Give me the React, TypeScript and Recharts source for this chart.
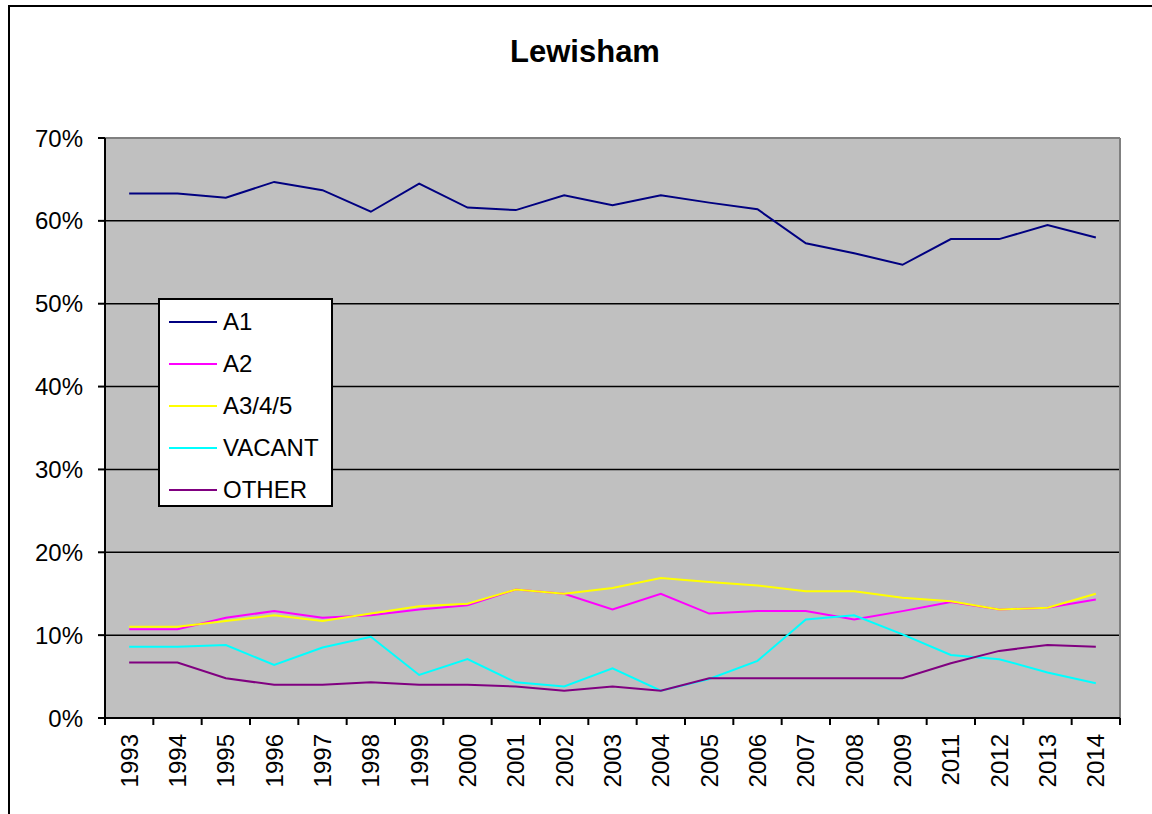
import React from 'react'
import {
  LineChart, Line, XAxis, YAxis, CartesianGrid, Legend, ReferenceLine
} from 'recharts'

// years on the category axis (no 2010 in the source)
const years = [
  '1993', '1994', '1995', '1996', '1997', '1998', '1999', '2000', '2001', '2002', '2003',
  '2004', '2005', '2006', '2007', '2008', '2009', '2011', '2012', '2013', '2014'
]

// share of units, in %
const a1 = [63.3, 63.3, 62.8, 64.7, 63.7, 61.1, 64.5, 61.6, 61.3, 63.1, 61.9, 63.1, 62.2, 61.4, 57.3, 56.1, 54.7, 57.8, 57.8, 59.5, 58.0]
const a2 = [10.7, 10.7, 12.1, 12.9, 12.1, 12.4, 13.1, 13.6, 15.5, 15.0, 13.1, 15.0, 12.6, 12.9, 12.9, 11.9, 12.9, 14.0, 13.1, 13.3, 14.3]
const a345 = [11.0, 11.0, 11.7, 12.4, 11.7, 12.6, 13.5, 13.8, 15.5, 15.0, 15.7, 16.9, 16.4, 16.0, 15.3, 15.3, 14.5, 14.1, 13.1, 13.3, 15.0]
const vacant = [8.6, 8.6, 8.8, 6.4, 8.5, 9.8, 5.2, 7.1, 4.3, 3.8, 6.0, 3.3, 4.7, 6.9, 11.9, 12.4, 10.1, 7.6, 7.1, 5.5, 4.2]
const other = [6.7, 6.7, 4.8, 4.0, 4.0, 4.3, 4.0, 4.0, 3.8, 3.3, 3.8, 3.3, 4.8, 4.8, 4.8, 4.8, 4.8, 6.6, 8.1, 8.8, 8.6]

const yTicks = [0, 10, 20, 30, 40, 50, 60, 70]

const series = [
  { key: 'A1', color: '#000080' },
  { key: 'A2', color: '#FF00FF' },
  { key: 'A3/4/5', color: '#FFFF00' },
  { key: 'VACANT', color: '#00FFFF' },
  { key: 'OTHER', color: '#800080' },
]

const data = years.map((year, i) => ({
  year,
  A1: a1[i],
  A2: a2[i],
  'A3/4/5': a345[i],
  VACANT: vacant[i],
  OTHER: other[i],
}))

const FONT = "Arial, 'Liberation Sans', sans-serif"
const BAND = (1120 - 105) / years.length

// year label plus the Excel-style tick marks between categories
const YearTick = ({ x, y, payload, index }: { x?: number; y?: number; payload?: { value: string }; index?: number }) => {
  const cx = x ?? 0
  const ay = (y ?? 0) - 8
  const ty = ay + 16
  return (
    <g>
      <line x1={cx - BAND / 2} x2={cx - BAND / 2} y1={ay} y2={ay + 7} stroke="#000" strokeWidth={2} />
      {index === years.length - 1 && (
        <line x1={cx + BAND / 2} x2={cx + BAND / 2} y1={ay} y2={ay + 7} stroke="#000" strokeWidth={2} />
      )}
      <text
        x={cx}
        y={ty}
        transform={`rotate(-90, ${cx}, ${ty})`}
        textAnchor="end"
        dy="0.36em"
        fontSize={24}
        fontFamily={FONT}
        fill="#000"
      >
        {payload?.value}
      </text>
    </g>
  )
}

const LegendBox = () => (
  <div
    style={{
      width: 175, height: 209, boxSizing: 'border-box', background: '#fff',
      border: '2px solid #000', fontFamily: FONT, fontSize: 24, color: '#000',
      position: 'relative',
    }}
  >
    {series.map((s, i) => (
      <div key={s.key} style={{ position: 'absolute', left: 9, top: 22 + i * 42 - 14, height: 28, display: 'flex', alignItems: 'center' }}>
        <span style={{ width: 48, borderTop: `2px solid ${s.color}`, display: 'inline-block' }} />
        <span style={{ marginLeft: 6, lineHeight: '28px' }}>{s.key}</span>
      </div>
    ))}
  </div>
)

export default function App() {
  return (
    <div style={{ position: 'fixed', left: 0, top: 0, width: 1152, height: 814, overflow: 'hidden', background: '#fff' }}>
      <div style={{ position: 'absolute', left: 8, top: 5, width: 1300, height: 1000, border: '2px solid #000' }} />
      <div
        style={{
          position: 'absolute', left: 485, top: 36, width: 200, textAlign: 'center',
          fontFamily: FONT, fontWeight: 'bold', fontSize: 31, lineHeight: '31px', color: '#000',
        }}
      >
        Lewisham
      </div>
      <div style={{ position: 'absolute', left: 0, top: 0 }}>
        <LineChart width={1152} height={814} data={data} margin={{ top: 138, right: 32, bottom: 0, left: 0 }}>
          <CartesianGrid vertical={false} fill="#C0C0C0" stroke="#000" strokeWidth={1.5} />
          <XAxis
            dataKey="year"
            scale="band"
            interval={0}
            height={96}
            axisLine={{ stroke: '#000', strokeWidth: 2 }}
            tickLine={false}
            tick={<YearTick />}
          />
          <YAxis
            domain={[0, 70]}
            ticks={yTicks}
            width={105}
            tickFormatter={(v: number) => `${v}%`}
            tickSize={7}
            tickMargin={15}
            tick={{ fontSize: 24, fontFamily: FONT, fill: '#000' }}
            axisLine={{ stroke: '#000', strokeWidth: 2 }}
            tickLine={{ stroke: '#000', strokeWidth: 2 }}
          />
          <ReferenceLine y={70} stroke="#808080" strokeWidth={2} />
          <ReferenceLine x="2014" stroke="#808080" strokeWidth={2} position="end" />
          <Legend
            layout="horizontal"
            verticalAlign="middle"
            content={<LegendBox />}
            wrapperStyle={{ left: 158, top: 298, width: 175, height: 209 }}
          />
          {series.map(s => (
            <Line
              key={s.key}
              type="linear"
              dataKey={s.key}
              stroke={s.color}
              strokeWidth={2}
              dot={false}
              isAnimationActive={false}
            />
          ))}
        </LineChart>
      </div>
    </div>
  )
}
